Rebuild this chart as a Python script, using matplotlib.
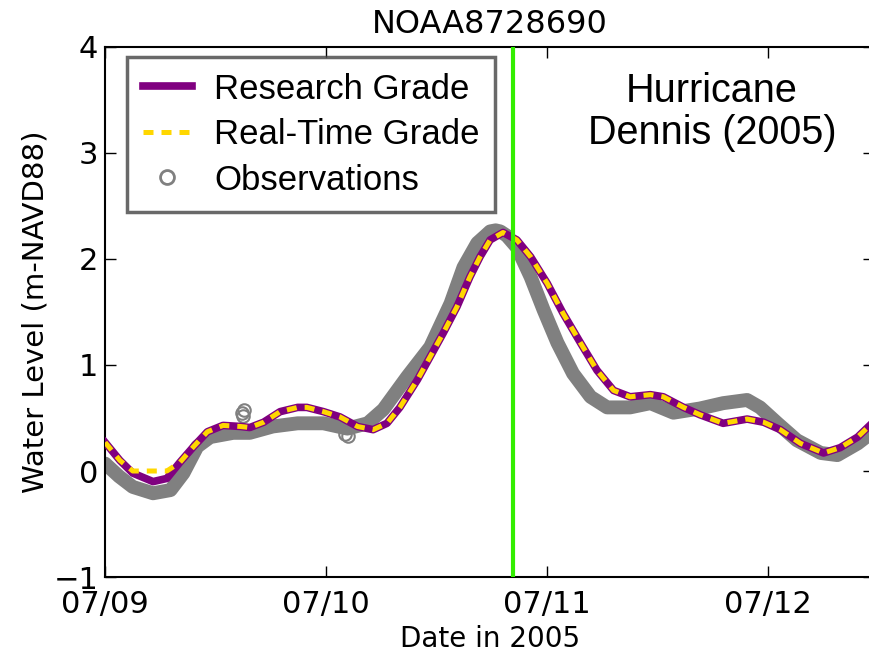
import datetime as dt
import matplotlib
matplotlib.use("Agg")
import matplotlib.pyplot as plt
import matplotlib.dates as mdates

# hours after 2005-07-09 00:00
research_h = [0.0, 1.6, 3.0, 5.2, 6.7, 8.1, 9.6, 11.1, 12.8, 14.7, 15.7, 17.2, 19.0, 20.9,
              21.9, 23.7, 25.5, 27.4, 29.1, 30.6, 32.0, 33.9, 35.3, 36.7, 38.2, 39.6, 40.7,
              41.8, 43.2, 44.7, 46.2, 48.0, 49.7, 51.6, 53.4, 55.2, 57.0, 59.2, 60.6, 62.8,
              64.6, 67.1, 69.7, 71.5, 73.3, 75.5, 78.0, 79.8, 81.7, 83.5]
research_wl = [0.27, 0.10, -0.02, -0.10, -0.07, 0.08, 0.23, 0.37, 0.43, 0.42, 0.41, 0.46, 0.56, 0.60,
               0.60, 0.56, 0.51, 0.42, 0.39, 0.45, 0.60, 0.86, 1.08, 1.30, 1.55, 1.83, 2.02,
               2.18, 2.25, 2.18, 2.02, 1.77, 1.49, 1.21, 0.95, 0.76, 0.70, 0.72, 0.70, 0.60,
               0.53, 0.45, 0.49, 0.46, 0.39, 0.26, 0.17, 0.22, 0.32, 0.47]
realtime_wl = [0.27, 0.10, 0.0, 0.0, 0.0, 0.08, 0.23, 0.37, 0.43, 0.42, 0.41, 0.46, 0.56, 0.60,
               0.60, 0.56, 0.51, 0.42, 0.39, 0.45, 0.60, 0.86, 1.08, 1.30, 1.55, 1.83, 2.02,
               2.18, 2.25, 2.18, 2.02, 1.77, 1.49, 1.21, 0.95, 0.76, 0.70, 0.72, 0.70, 0.60,
               0.53, 0.45, 0.49, 0.46, 0.39, 0.26, 0.17, 0.22, 0.32, 0.47]

obs_h = [0.0, 1.5, 3.0, 5.2, 7.1, 8.5, 10.0, 11.4, 13.9, 15.7, 18.2, 20.9, 23.7, 26.3, 28.5,
         30.2, 32.8, 35.3, 37.5, 38.9, 40.4, 41.3, 41.8, 42.4, 42.9, 43.6, 44.7, 46.2, 47.6,
         49.1, 50.8, 52.7, 54.5, 57.0, 59.2, 61.7, 64.6, 67.1, 69.7, 71.1, 73.0, 75.1, 77.7,
         79.5, 81.7, 83.5]
obs_wl = [0.07, -0.05, -0.15, -0.21, -0.18, -0.02, 0.23, 0.32, 0.36, 0.36, 0.42, 0.45, 0.45, 0.40, 0.45,
          0.58, 0.89, 1.17, 1.58, 1.92, 2.15, 2.22, 2.26, 2.27, 2.26, 2.22, 2.11, 1.83, 1.52,
          1.21, 0.92, 0.70, 0.60, 0.60, 0.64, 0.55, 0.59, 0.64, 0.67, 0.60, 0.45, 0.29, 0.17,
          0.15, 0.26, 0.38]
# a few stray observations off the main band
stray_h = [14.9, 15.1, 15.0, 26.0, 26.4]
stray_wl = [0.55, 0.58, 0.52, 0.35, 0.33]

landfall_h = 44.3

t0 = dt.datetime(2005, 7, 9)
def times(hours):
    return [t0 + dt.timedelta(hours=h) for h in hours]

fig = plt.figure(figsize=(8.69, 6.52), dpi=100)
fig.patch.set_facecolor('white')
ax = fig.add_axes([0.121, 0.115, 0.885, 0.813])

ax.plot(times(obs_h), obs_wl, color='#808080', lw=10, solid_joinstyle='round',
        solid_capstyle='round', zorder=2)
ax.plot(times(stray_h), stray_wl, 'o', mfc='none', mec='#808080', ms=9, mew=1.5, zorder=2)
ax.plot([], [], 'o', mfc='none', mec='#808080', ms=10, mew=2, label='Observations')

ax.plot(times(research_h), research_wl, color='#800080', lw=5.5, solid_joinstyle='round',
        zorder=3, label='Research Grade')
ax.plot(times(research_h), realtime_wl, color='#FFD700', lw=3.6, dashes=(2.0, 1.6),
        zorder=4, label='Real-Time Grade')

ax.axvline(t0 + dt.timedelta(hours=landfall_h), color='#33EE00', lw=3, zorder=5)

ax.set_xlim(t0, t0 + dt.timedelta(hours=83.5))
ax.set_ylim(-1, 4)
ax.xaxis.set_major_locator(mdates.DayLocator())
ax.xaxis.set_major_formatter(mdates.DateFormatter('%m/%d'))
ax.set_yticks([-1, 0, 1, 2, 3, 4])
ax.set_yticklabels(['\u22121', '0', '1', '2', '3', '4'])
ax.tick_params(direction='in', length=8, width=1, labelsize=22, top=True, right=True, pad=5)
ax.tick_params(axis='x', pad=9)
for s in ax.spines.values():
    s.set_linewidth(1.5)

ax.set_title('NOAA8728690', fontsize=23, pad=10)
ax.set_xlabel('Date in 2005', fontsize=20, labelpad=5)
ax.set_ylabel('Water Level (m-NAVD88)', fontsize=21, labelpad=3)

h, l = ax.get_legend_handles_labels()
order = [l.index('Research Grade'), l.index('Real-Time Grade'), l.index('Observations')]
leg = ax.legend([h[i] for i in order], [l[i] for i in order], loc='upper left',
                bbox_to_anchor=(0.029, 0.981), borderaxespad=0, fancybox=False,
                prop={'family': 'Liberation Sans', 'size': 25}, handlelength=1.4,
                handletextpad=0.65, labelspacing=0.36, borderpad=0.45, numpoints=1)
leg.get_frame().set_edgecolor('#444444')
leg.get_frame().set_linewidth(2.5)

ax.text(0.789, 0.877, 'Hurricane\nDennis (2005)', transform=ax.transAxes, ha='center',
        va='center', fontsize=28.5, family='Liberation Sans', linespacing=1.15)

fig.savefig('out.png', dpi=100)
